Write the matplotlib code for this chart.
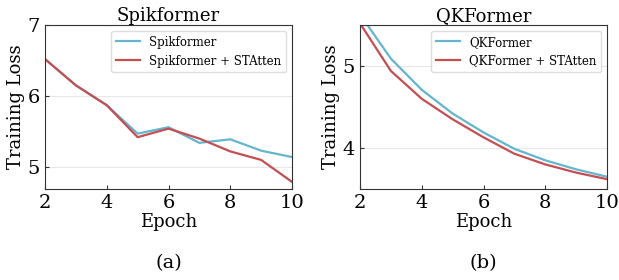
import numpy as np
import matplotlib
matplotlib.use("Agg")
import matplotlib.pyplot as plt

epochs = [2, 3, 4, 5, 6, 7, 8, 9, 10]
spik_base = [6.52, 6.15, 5.87, 5.47, 5.56, 5.34, 5.39, 5.23, 5.14]
spik_statten = [6.52, 6.15, 5.87, 5.42, 5.54, 5.40, 5.22, 5.10, 4.79]
qk_base = [5.63, 5.09, 4.71, 4.42, 4.19, 3.99, 3.85, 3.74, 3.65]
qk_statten = [5.52, 4.94, 4.60, 4.35, 4.13, 3.93, 3.80, 3.70, 3.62]

blue = "#64b5cd"
red = "#c44e52"

plt.rcParams["font.family"] = "DejaVu Serif"
fig = plt.figure(figsize=(6.19, 2.8), dpi=100)

panels = [
    ("Spikformer", spik_base, spik_statten, (4.69, 7.0), [5, 6, 7], "(a)"),
    ("QKFormer", qk_base, qk_statten, (3.5, 5.5), [4, 5], "(b)"),
]
lefts = [45 / 619, 360 / 619]
for left, (name, base, att, ylim, yt, cap) in zip(lefts, panels):
    ax = fig.add_axes([left, 1 - 189 / 280, 247 / 619, 164 / 280])
    ax.plot(epochs, base, color=blue, lw=1.6, label=name)
    ax.plot(epochs, att, color=red, lw=1.6, label=name + " + STAtten")
    ax.set_xlim(2, 10)
    ax.set_ylim(*ylim)
    ax.set_xticks([2, 4, 6, 8, 10])
    ax.set_yticks(yt)
    ax.grid(axis="y", color="#e8e8e8", lw=0.8)
    ax.set_axisbelow(True)
    ax.tick_params(direction="in", labelsize=14, length=3, color="#333333")
    for s in ax.spines.values():
        s.set_color("#333333")
    ax.set_title(name, fontsize=13, pad=2)
    ax.set_xlabel("Epoch", fontsize=13, labelpad=1)
    ax.set_ylabel("Training Loss", fontsize=13, labelpad=2)
    ax.legend(loc="upper right", fontsize=8.5, frameon=True, framealpha=1,
              edgecolor="#dddddd", fancybox=True, handlelength=2.0)
    ax.text(0.5, -0.45, cap, transform=ax.transAxes, ha="center", va="center",
            fontsize=14)

fig.savefig("out.png", dpi=100)
